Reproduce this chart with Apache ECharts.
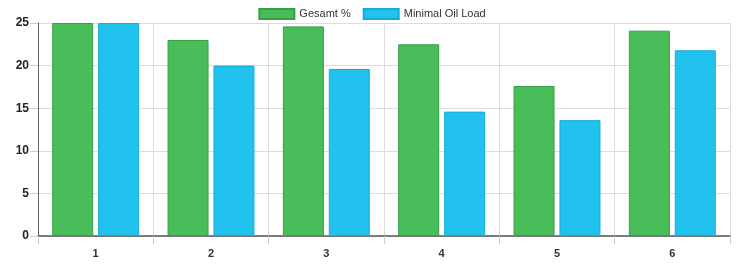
<!DOCTYPE html>
<html><head><meta charset="utf-8">
<script src="https://cdn.jsdelivr.net/npm/echarts@6/dist/echarts.min.js"></script>
<style>html,body{margin:0;padding:0;background:#fff}#c{width:744px;height:269px}</style>
</head><body><div id="c"></div>
<script>
const categories = ['1','2','3','4','5','6'];
const gesamt = [25, 23.0, 24.6, 22.5, 17.6, 24.1];
const minimalOil = [25, 20.0, 19.6, 14.6, 13.6, 21.8];
const seriesNames = ['Gesamt %', 'Minimal Oil Load'];

const chart = echarts.init(document.getElementById('c'));
chart.setOption({
  animation: false,
  textStyle: { fontFamily: 'Liberation Sans, Arial, sans-serif' },
  legend: {
    top: 3, left: 'center', itemWidth: 35, itemHeight: 10, itemGap: 12, icon: 'rect',
    textStyle: { fontSize: 11, color: '#333' },
    data: seriesNames
  },
  grid: { left: 38, right: 14, top: 23, bottom: 33 },
  xAxis: {
    type: 'category', data: categories,
    axisLine: { lineStyle: { color: '#555', width: 1.5 } },
    axisTick: { show: true, length: 8, lineStyle: { color: '#ccc' } },
    splitLine: { show: true, lineStyle: { color: '#ddd' } },
    axisLabel: { color: '#333', fontSize: 11, fontWeight: 'bold', margin: 12 }
  },
  yAxis: {
    type: 'value', min: 0, max: 25, interval: 5,
    axisLine: { show: true, lineStyle: { color: '#666', width: 1 } },
    axisTick: { show: true, length: 8, lineStyle: { color: '#ccc' } },
    splitLine: { lineStyle: { color: '#ddd' } },
    axisLabel: { color: '#222', fontSize: 12, fontWeight: 'bold', margin: 9 }
  },
  series: [
    { name: seriesNames[0], type: 'bar', data: gesamt, barWidth: 41, barGap: '12%',
      itemStyle: { color: '#48bd5a', borderColor: '#35a047', borderWidth: 1 } },
    { name: seriesNames[1], type: 'bar', data: minimalOil, barWidth: 41,
      itemStyle: { color: '#22c2ef', borderColor: '#16acd8', borderWidth: 1 } }
  ]
});
</script></body></html>
